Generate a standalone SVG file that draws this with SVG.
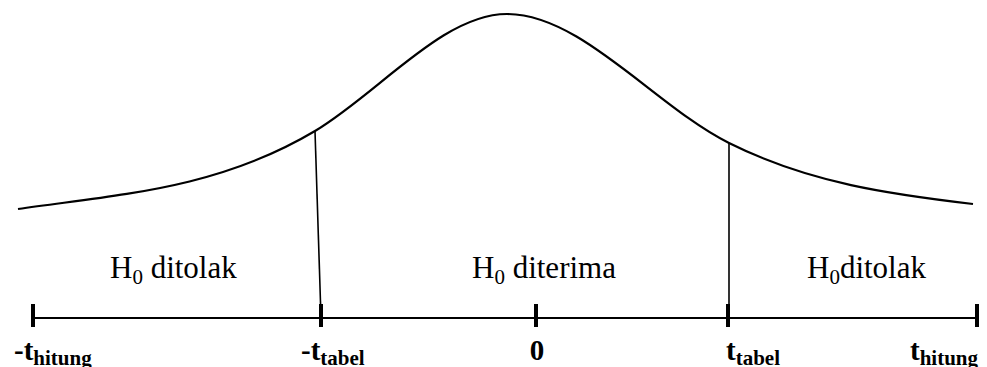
<svg xmlns="http://www.w3.org/2000/svg" width="987" height="367" viewBox="0 0 987 367">
<style>
.curve{fill:none;stroke:#000;stroke-width:2.2}
.cut{fill:none;stroke:#000;stroke-width:1.6}
.axis{fill:none;stroke:#000;stroke-width:2.2}
.tick{fill:none;stroke:#000;stroke-width:4}
.reg{font-family:"Liberation Serif","Times New Roman",serif;font-size:31px;fill:#000}
.lab{font-family:"Liberation Serif","Times New Roman",serif;font-size:29px;font-weight:bold;fill:#000}
.sub{font-size:21px}
.rsub{font-size:21px}
</style>
<rect width="987" height="367" fill="#fff"/>
<g id="connectors">
<path id="curve" class="curve" d="M18,209 C117,194.5 216,190 315,131 C379,92.6 443,14 507,14 C581,14 655,106 729,143 C810,183.5 892,194.5 973,204"/>
<line id="cut-left" class="cut" x1="315" y1="131" x2="321" y2="318"/>
<line id="cut-right" class="cut" x1="729" y1="143" x2="729" y2="318"/>
<line id="axis" class="axis" x1="33" y1="318" x2="977" y2="318"/>
</g>
<g id="tick-neg-hitung"><line class="tick" x1="33" y1="304" x2="33" y2="327"/>
<text class="lab" x="14" y="360">-t<tspan class="sub" dy="5">hitung</tspan></text></g>
<g id="tick-neg-tabel"><line class="tick" x1="321" y1="304" x2="321" y2="327"/>
<text class="lab" x="301" y="360">-t<tspan class="sub" dy="5">tabel</tspan></text></g>
<g id="tick-zero"><line class="tick" x1="536" y1="304" x2="536" y2="327"/>
<text class="lab" x="537" y="360" text-anchor="middle">0</text></g>
<g id="tick-tabel"><line class="tick" x1="728" y1="304" x2="728" y2="327"/>
<text class="lab" x="726" y="360">t<tspan class="sub" dy="5">tabel</tspan></text></g>
<g id="tick-hitung"><line class="tick" x1="977" y1="304" x2="977" y2="327"/>
<text class="lab" x="910" y="360">t<tspan class="sub" dy="5">hitung</tspan></text></g>
<g id="region-left"><text class="reg" x="110" y="278">H<tspan class="rsub" dy="6">0</tspan><tspan dy="-6"> ditolak</tspan></text></g>
<g id="region-mid"><text class="reg" x="472" y="278">H<tspan class="rsub" dy="6">0</tspan><tspan dy="-6"> diterima</tspan></text></g>
<g id="region-right"><text class="reg" x="807" y="278">H<tspan class="rsub" dy="6">0</tspan><tspan dy="-6">ditolak</tspan></text></g>
</svg>
